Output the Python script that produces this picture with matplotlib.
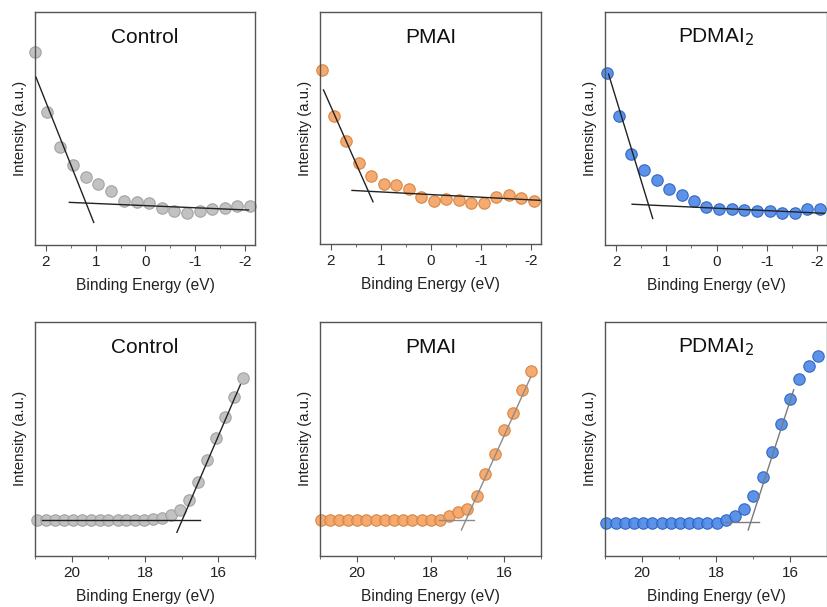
import matplotlib
matplotlib.use("Agg")
import matplotlib.pyplot as plt

plt.rcParams['font.family'] = ['Liberation Sans', 'DejaVu Sans']

titles = ["Control", "PMAI", "PDMAI$_2$"]
colors = ["#bcbcbc", "#f3a161", "#4a87e6"]
edges = ["#9e9e9e", "#d4803c", "#2a5fbf"]
fit_colors_bottom = ["#222222", "#8c8c8c", "#7a7a7a"]

# ---- top row: valence band edge (low binding energy) ----
vb_x_control = [2.22, 1.97, 1.72, 1.46, 1.20, 0.96, 0.70, 0.43, 0.18, -0.08, -0.33, -0.58, -0.83, -1.09, -1.34, -1.59, -1.84, -2.10]
vb_y_control = [83.0, 57.2, 41.9, 34.3, 29.1, 26.1, 23.0, 18.9, 18.3, 17.9, 16.0, 14.7, 13.6, 14.5, 15.3, 15.8, 16.9, 16.9]
vb_x_pmai = [2.18, 1.94, 1.69, 1.44, 1.19, 0.94, 0.69, 0.44, 0.19, -0.06, -0.31, -0.56, -0.81, -1.06, -1.31, -1.56, -1.81, -2.06]
vb_y_pmai = [75.0, 55.3, 44.4, 34.9, 29.4, 25.9, 25.3, 23.6, 20.3, 18.4, 19.3, 19.0, 17.5, 17.7, 20.4, 21.1, 19.8, 18.7]
vb_x_pdmai = [2.18, 1.95, 1.70, 1.44, 1.19, 0.95, 0.69, 0.44, 0.20, -0.05, -0.30, -0.55, -0.81, -1.06, -1.31, -1.56, -1.81, -2.06]
vb_y_pdmai = [74.0, 55.4, 39.1, 32.3, 27.9, 24.0, 21.5, 18.7, 16.4, 15.3, 15.5, 15.2, 14.6, 14.5, 13.6, 13.6, 15.3, 15.5]

vb_steep_fit = [([2.20, 1.04], [72.0, 9.7]), ([2.15, 1.16], [66.4, 18.2]), ([2.15, 1.27], [73.4, 11.4])]
vb_flat_fit = [([1.53, -2.07], [18.3, 15.0]), ([1.58, -2.20], [23.1, 18.8]), ([1.68, -2.15], [17.5, 13.6])]

# ---- bottom row: secondary electron cutoff ----
se_x_control = [20.95, 20.71, 20.46, 20.22, 19.97, 19.73, 19.48, 19.24, 19.00, 18.75, 18.51, 18.26, 18.02, 17.77, 17.53, 17.28, 17.04, 16.80, 16.55, 16.31, 16.06, 15.82, 15.57, 15.33]
se_y_control = [15.4, 15.4, 15.4, 15.4, 15.4, 15.4, 15.4, 15.4, 15.4, 15.4, 15.4, 15.4, 15.4, 15.8, 16.4, 17.5, 19.5, 23.9, 31.6, 41.0, 50.2, 59.2, 68.0, 76.0]
se_x_pmai = [20.98, 20.73, 20.48, 20.23, 19.99, 19.74, 19.49, 19.24, 18.99, 18.74, 18.49, 18.24, 17.99, 17.75, 17.50, 17.25, 17.00, 16.75, 16.51, 16.26, 16.01, 15.76, 15.51, 15.27]
se_y_pmai = [15.3, 15.3, 15.3, 15.3, 15.3, 15.3, 15.3, 15.3, 15.3, 15.3, 15.3, 15.3, 15.3, 15.3, 17.0, 18.7, 20.1, 25.5, 34.9, 43.4, 53.6, 61.0, 70.9, 78.9]
se_x_pdmai = [20.96, 20.71, 20.47, 20.22, 19.97, 19.72, 19.47, 19.22, 18.98, 18.73, 18.48, 18.23, 17.98, 17.74, 17.49, 17.24, 16.99, 16.74, 16.49, 16.25, 16.00, 15.75, 15.50, 15.25]
se_y_pdmai = [13.9, 13.9, 13.9, 13.9, 13.9, 13.9, 13.9, 13.9, 13.9, 13.9, 13.9, 13.9, 13.9, 15.4, 17.1, 20.2, 25.6, 33.6, 44.3, 56.3, 67.0, 75.4, 81.2, 85.1]

se_steep_fit = [([17.13, 15.40], [10.1, 73.0]), ([17.16, 15.28], [11.1, 76.3]), ([17.13, 15.90], [11.1, 70.9])]
se_flat_fit = [([20.80, 16.49], [15.4, 15.4]), ([17.78, 16.81], [15.3, 15.3]), ([17.75, 16.85], [14.7, 14.7])]

vb_x = [vb_x_control, vb_x_pmai, vb_x_pdmai]
vb_y = [vb_y_control, vb_y_pmai, vb_y_pdmai]
se_x = [se_x_control, se_x_pmai, se_x_pdmai]
se_y = [se_y_control, se_y_pmai, se_y_pdmai]

W, H = 828, 607
fig = plt.figure(figsize=(W / 100, H / 100), dpi=100)

lefts = [35, 320, 605]
widths = [220, 221, 222]
top_rows = [(12, 245), (12, 244), (12, 245)]
bot_row = (321.5, 556)

def make_axes(left, width, top, bottom):
    return fig.add_axes([left / W, 1 - bottom / H, width / W, (bottom - top) / H])

def style(ax):
    for s in ax.spines.values():
        s.set_color("#555555")
        s.set_linewidth(1.0)
    ax.tick_params(axis='x', which='both', direction='out', colors="#555555", labelcolor="#222222", labelsize=11)
    ax.tick_params(axis='x', which='major', length=4)
    ax.tick_params(axis='x', which='minor', length=2.5)
    ax.set_yticks([])
    ax.set_ylim(0, 100)
    ax.set_ylabel("Intensity (a.u.)", fontsize=10.8, color="#222222", labelpad=6)
    ax.set_xlabel("Binding Energy (eV)", fontsize=11.2, color="#222222", labelpad=6)

for i in range(3):
    # top row
    ax = make_axes(lefts[i], widths[i], *top_rows[i])
    ax.plot(*vb_steep_fit[i], color="#222222", lw=1.0, zorder=3)
    ax.plot(*vb_flat_fit[i], color="#222222", lw=1.0, zorder=3)
    ax.scatter(vb_x[i], vb_y[i], s=68, color=colors[i], edgecolors=edges[i], linewidths=0.8, alpha=0.9, zorder=2, clip_on=False)
    ax.set_xlim(2.22, -2.2)
    ax.set_xticks([2, 1, 0, -1, -2])
    ax.set_xticklabels(["2", "1", "0", "-1", "-2"])
    ax.set_xticks([1.5, 0.5, -0.5, -1.5], minor=True)
    style(ax)
    ax.text(0.5, 0.89, titles[i], transform=ax.transAxes, ha='center', va='center', fontsize=15, color="#111111")

    # bottom row
    ax = make_axes(lefts[i], widths[i], *bot_row)
    ax.plot(*se_steep_fit[i], color=fit_colors_bottom[i], lw=1.0, zorder=3)
    ax.plot(*se_flat_fit[i], color=fit_colors_bottom[i], lw=1.0, zorder=3)
    ax.scatter(se_x[i], se_y[i], s=68, color=colors[i], edgecolors=edges[i], linewidths=0.8, alpha=0.9, zorder=2, clip_on=False)
    ax.set_xlim(21, 15)
    ax.set_xticks([20, 18, 16])
    ax.set_xticks([21, 19, 17, 15], minor=True)
    style(ax)
    ax.text(0.5, 0.89, titles[i], transform=ax.transAxes, ha='center', va='center', fontsize=15, color="#111111")

fig.savefig("out.png", dpi=100)
